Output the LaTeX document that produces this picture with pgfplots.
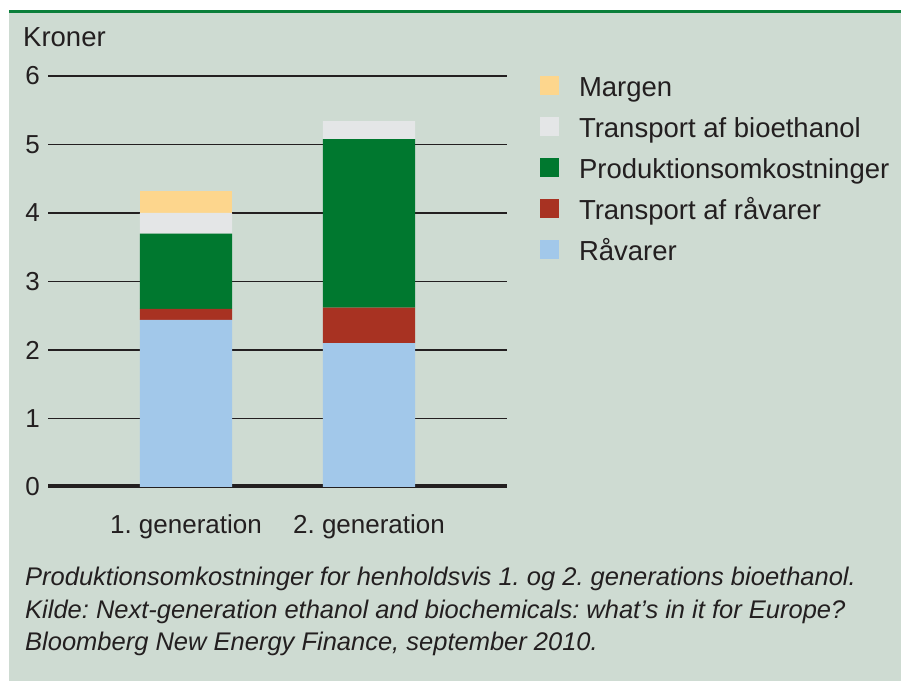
\documentclass[border=0pt]{standalone}
\usepackage{pgfplots}
\pgfplotsset{compat=1.18}
\usepackage{fontspec}
\setmainfont{Liberation Sans}
\frenchspacing
\definecolor{bg}{HTML}{CEDBD2}
\definecolor{topgreen}{HTML}{0B7F3B}
\definecolor{cmargen}{HTML}{FDD68D}
\definecolor{ctrbio}{HTML}{E4E6E7}
\definecolor{cprod}{HTML}{00782F}
\definecolor{ctrraa}{HTML}{A83222}
\definecolor{craa}{HTML}{A2C8EA}
\definecolor{txt}{HTML}{231F20}
\begin{document}
\frenchspacing
\begin{tikzpicture}[x=1pt,y=1pt]
\fill[white] (0,0) rectangle (901,682);
\fill[bg] (9,1) rectangle (901,672);
\fill[topgreen] (9,669) rectangle (901,672);
\node[anchor=base west, inner sep=0pt, text=txt, font=\fontsize{27.5}{33}\selectfont] at (23,635) {Kroner};
\begin{axis}[
  at={(48pt,195pt)}, anchor=south west, scale only axis,
  width=459pt, height=411pt,
  ybar stacked, bar width=0.503, bar shift=0pt,
  xmin=-0.754, xmax=1.754, ymin=0, ymax=6,
  axis line style={draw=none},
  major tick length=0pt,
  tick style={draw=none},
  ytick={0,1,2,3,4,5,6},
  ymajorgrids,
  grid style={txt, line width=1.9pt},
  xtick={0,1},
  xticklabels={1. generation, 2. generation},
  /pgf/number format/assume math mode=true,
  ticklabel style={font=\fontsize{26}{31}\selectfont, text=txt},
  yticklabel style={anchor=east, inner sep=0pt, xshift=-8pt},
  xticklabel style={anchor=base, inner sep=0pt, yshift=-47pt},
  legend style={at={(1.0719,0.9988)}, anchor=north west, draw=none, fill=none,
    inner sep=0pt, outer sep=0pt, row sep=15pt, column sep=20pt,
    nodes={inner sep=0pt, text height=20pt, text depth=6pt, anchor=base west,
      font=\fontsize{27.5}{33}\selectfont, text=txt}},
  legend cell align=left,
  legend image code/.code={\fill[#1] (0pt,1pt) rectangle (19pt,20pt);},
  reverse legend,
]
\addplot[fill=craa, draw=none] coordinates {(0,2.44) (1,2.10)};
\addlegendentry{Råvarer}
\addplot[fill=ctrraa, draw=none] coordinates {(0,0.16) (1,0.52)};
\addlegendentry{Transport af råvarer}
\addplot[fill=cprod, draw=none] coordinates {(0,1.10) (1,2.46)};
\addlegendentry{Produktionsomkostninger}
\addplot[fill=ctrbio, draw=none] coordinates {(0,0.30) (1,0.26)};
\addlegendentry{Transport af bioethanol}
\addplot[fill=cmargen, draw=none] coordinates {(0,0.32) (1,0)};
\addlegendentry{Margen}
\draw[txt, line width=5pt] (axis cs:-0.754,0) -- (axis cs:1.754,0);
\end{axis}
\begin{scope}[every node/.style={anchor=base west, inner sep=0pt, text=txt, font=\itshape\fontsize{25.5}{30}\selectfont}]
\node at (25,96) {Produktionsomkostninger for henholdsvis 1. og 2. generations bioethanol.};
\node at (25,63.5) {Kilde: Next-generation ethanol and biochemicals: what's in it for Europe?};
\node at (25,31) {Bloomberg New Energy Finance, september 2010.};
\end{scope}
\end{tikzpicture}
\end{document}
